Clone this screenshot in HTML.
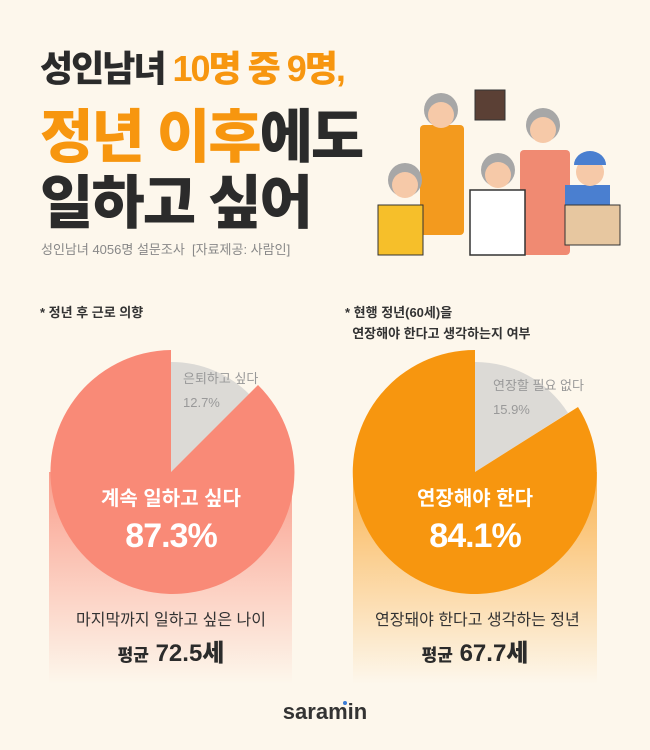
<!DOCTYPE html>
<html><head><meta charset="utf-8"><style>
body{margin:0;width:650px;height:750px;background:#fdf7ec;font-family:"Liberation Sans","Noto Sans CJK KR",sans-serif;position:relative;overflow:hidden}
.t{position:absolute;white-space:nowrap;font-weight:900;letter-spacing:-2px;color:#2b2b2b}
.o{color:#f7960f}
.s{position:absolute;white-space:nowrap}
</style></head><body>
<div class="t" style="left:40px;top:40px;font-size:36px">성인남녀 <span class="o">10명 중 9명,</span></div>
<div class="t" style="left:40px;top:90px;font-size:58px"><span class="o">정년 이후</span>에도</div>
<div class="t" style="left:40px;top:156px;font-size:58px">일하고 싶어</div>
<div class="s" style="left:41px;top:239px;font-size:13px;color:#888">성인남녀 4056명 설문조사 &nbsp;[자료제공: 사람인]</div>

<svg style="position:absolute;left:0;top:0" width="650" height="750">
<g>
<rect x="420" y="125" width="44" height="110" fill="#f39a1e" rx="4"/>
<circle cx="441" cy="110" r="17" fill="#a7a7a7"/><circle cx="441" cy="115" r="13" fill="#f6c9a8"/>
<rect x="520" y="150" width="50" height="105" fill="#f08a72" rx="4"/>
<circle cx="543" cy="125" r="17" fill="#a7a7a7"/><circle cx="543" cy="130" r="13" fill="#f6c9a8"/>
<rect x="470" y="190" width="55" height="65" fill="#fff" stroke="#333" stroke-width="1.5"/>
<circle cx="498" cy="170" r="17" fill="#a7a7a7"/><circle cx="498" cy="175" r="13" fill="#f6c9a8"/>
<rect x="378" y="205" width="45" height="50" fill="#f6bf2a" stroke="#333"/>
<circle cx="405" cy="180" r="17" fill="#a7a7a7"/><circle cx="405" cy="185" r="13" fill="#f6c9a8"/>
<rect x="565" y="185" width="45" height="60" fill="#4a7fd0"/>
<rect x="565" y="205" width="55" height="40" fill="#e7c7a0" stroke="#333"/>
<circle cx="590" cy="172" r="14" fill="#f6c9a8"/><path d="M574 165 a16 14 0 0 1 32 0z" fill="#4a7fd0"/>
<rect x="475" y="90" width="30" height="30" fill="#5b4035" stroke="#333"/>
</g>
<defs>
<linearGradient id="g1" x1="0" y1="0" x2="0" y2="1"><stop offset="0" stop-color="#f98a77"/><stop offset="1" stop-color="#fdf7ec"/></linearGradient>
<linearGradient id="g2" x1="0" y1="0" x2="0" y2="1"><stop offset="0" stop-color="#f9a42e"/><stop offset="1" stop-color="#fdf7ec"/></linearGradient>
</defs>
<rect x="49" y="472" width="243" height="212" fill="url(#g1)" opacity="0.8"/>
<path d="M171 472 L171 362 A110 110 0 0 1 250 395 Z" fill="#dcdad6"/>
<path d="M171 472 L258 385 A122 122 0 1 1 171 350 Z" fill="#f98a77"/>
<rect x="353" y="472" width="244" height="212" fill="url(#g2)" opacity="0.8"/>
<path d="M475 472 L475 362 A110 110 0 0 1 568 413 Z" fill="#dcdad6"/>
<path d="M475 472 L578 407 A122 122 0 1 1 475 350 Z" fill="#f7960f"/>
</svg>

<div class="s" style="left:40px;top:302px;font-size:13px;font-weight:700;color:#333">* 정년 후 근로 의향</div>
<div class="s" style="left:345px;top:302px;font-size:13px;font-weight:700;color:#333;line-height:21px">* 현행 정년(60세)을<br>&nbsp;&nbsp;연장해야 한다고 생각하는지 여부</div>

<div class="s" style="left:183px;top:367px;font-size:13px;color:#999;line-height:24px">은퇴하고 싶다<br>12.7%</div>
<div class="s" style="left:493px;top:374px;font-size:13px;color:#999;line-height:24px">연장할 필요 없다<br>15.9%</div>

<div class="s" style="left:71px;width:200px;text-align:center;top:482px;font-size:20px;font-weight:700;color:#fff">계속 일하고 싶다</div>
<div class="s" style="left:71px;width:200px;text-align:center;top:517px;font-size:34px;font-weight:900;color:#fff;letter-spacing:-1px">87.3%</div>
<div class="s" style="left:375px;width:200px;text-align:center;top:482px;font-size:20px;font-weight:700;color:#fff">연장해야 한다</div>
<div class="s" style="left:375px;width:200px;text-align:center;top:517px;font-size:34px;font-weight:900;color:#fff;letter-spacing:-1px">84.1%</div>

<div class="s" style="left:71px;width:200px;text-align:center;top:606px;font-size:16px;color:#333">마지막까지 일하고 싶은 나이</div>
<div class="s" style="left:71px;width:200px;text-align:center;top:633px;font-size:24px;font-weight:800;color:#2b2b2b"><span style="font-size:17px">평균</span> 72.5세</div>
<div class="s" style="left:375px;width:200px;text-align:center;top:606px;font-size:16px;color:#333">연장돼야 한다고 생각하는 정년</div>
<div class="s" style="left:375px;width:200px;text-align:center;top:633px;font-size:24px;font-weight:800;color:#2b2b2b"><span style="font-size:17px">평균</span> 67.7세</div>

<div class="s" style="left:275px;width:100px;text-align:center;top:699px;font-size:22px;font-weight:700;color:#333">saramin</div>
<div style="position:absolute;left:343px;top:701px;width:4px;height:4px;border-radius:2px;background:#3a7bd5"></div>
</body></html>
